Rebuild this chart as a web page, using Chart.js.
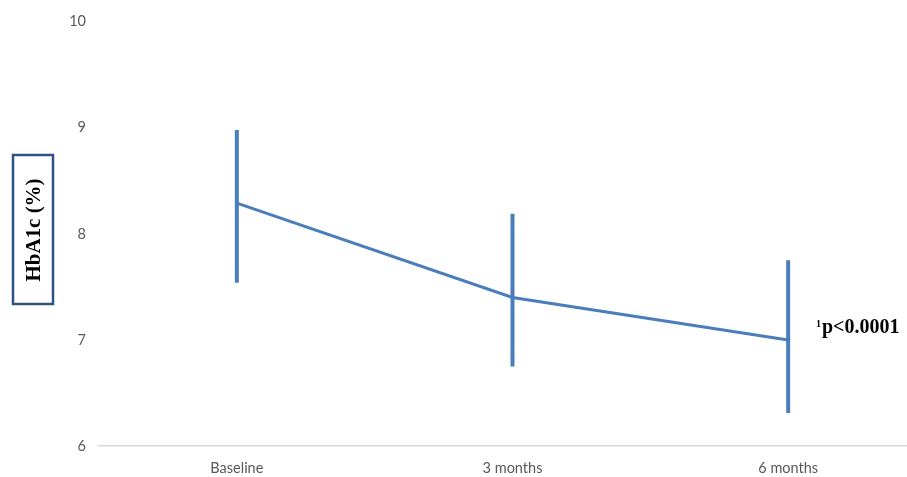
<!DOCTYPE html>
<html>
<head>
<meta charset="utf-8">
<script src="https://cdn.jsdelivr.net/npm/chart.js@4/dist/chart.umd.min.js"></script>
<style>
  html, body { margin: 0; padding: 0; background: #fff; overflow: hidden; }
  #wrap { width: 907px; height: 477px; overflow: hidden; }
  #box { width: 926px; height: 477px; }
</style>
</head>
<body>
<div id="wrap"><div id="box"><canvas id="hba1c-chart"></canvas></div></div>
<script>
const labels = ["Baseline", "3 months", "6 months"];
const meanValues = [8.29, 7.40, 7.00];
const upperValues = [8.98, 8.19, 7.75];
const lowerValues = [7.54, 6.75, 6.31];
const yTicks = [6, 7, 8, 9, 10];

const blue = "#4a7ebb";

// vertical error bars, no caps
const errorBars = {
  id: "errorBars",
  afterDatasetsDraw(chart) {
    const ctx = chart.ctx;
    const x = chart.scales.x, y = chart.scales.y;
    ctx.save();
    ctx.strokeStyle = blue;
    ctx.lineWidth = 4;
    labels.forEach((lab, i) => {
      const px = x.getPixelForValue(i);
      ctx.beginPath();
      ctx.moveTo(px, y.getPixelForValue(upperValues[i]));
      ctx.lineTo(px, y.getPixelForValue(lowerValues[i]));
      ctx.stroke();
    });
    ctx.restore();
  }
};

// boxed axis title and p-value note
const notes = {
  id: "notes",
  afterDraw(chart) {
    const ctx = chart.ctx;
    ctx.save();
    ctx.strokeStyle = "#2e5283";
    ctx.lineWidth = 2.5;
    ctx.fillStyle = "#fff";
    ctx.fillRect(13, 155, 40, 149);
    ctx.strokeRect(13, 155, 40, 149);

    ctx.translate(34, 230);
    ctx.rotate(-Math.PI / 2);
    ctx.fillStyle = "#000";
    ctx.font = "bold 21px 'Liberation Serif'";
    ctx.textAlign = "center";
    ctx.textBaseline = "middle";
    ctx.fillText("HbA1c (%)", 0, 1);
    ctx.restore();

    ctx.save();
    const yPos = chart.scales.y.getPixelForValue(meanValues[2]);
    ctx.fillStyle = "#000";
    ctx.textBaseline = "alphabetic";
    ctx.font = "bold 10px 'Liberation Serif'";
    ctx.fillText("1", 816, yPos - 13);
    ctx.font = "bold 20px 'Liberation Serif'";
    ctx.fillText("p<0.0001", 822, yPos - 7);
    ctx.restore();
  }
};

new Chart(document.getElementById("hba1c-chart"), {
  type: "line",
  data: {
    labels,
    datasets: [{
      data: meanValues,
      borderColor: blue,
      borderWidth: 3,
      pointRadius: 0,
      tension: 0,
      fill: false
    }]
  },
  options: {
    responsive: true,
    maintainAspectRatio: false,
    animation: false,
    layout: { padding: { top: 16, left: 0, right: 0, bottom: 0 } },
    plugins: { legend: { display: false }, tooltip: { enabled: false } },
    scales: {
      x: {
        offset: true,
        afterFit: s => { s.height = 31; },
        grid: { display: false, drawTicks: false },
        border: { display: true, color: "#d9d9d9", width: 1.5 },
        ticks: { color: "#595959", font: { family: "Lato", size: 14.5 }, padding: 14 }
      },
      y: {
        min: 6,
        max: 10,
        afterFit: s => { s.width = 99; },
        afterBuildTicks: s => { s.ticks = yTicks.map(v => ({ value: v })); },
        grid: { display: false, drawTicks: false },
        border: { display: false },
        ticks: { color: "#595959", font: { family: "Lato", size: 14.5 }, padding: 13 }
      }
    }
  },
  plugins: [errorBars, notes]
});
</script>
</body>
</html>
